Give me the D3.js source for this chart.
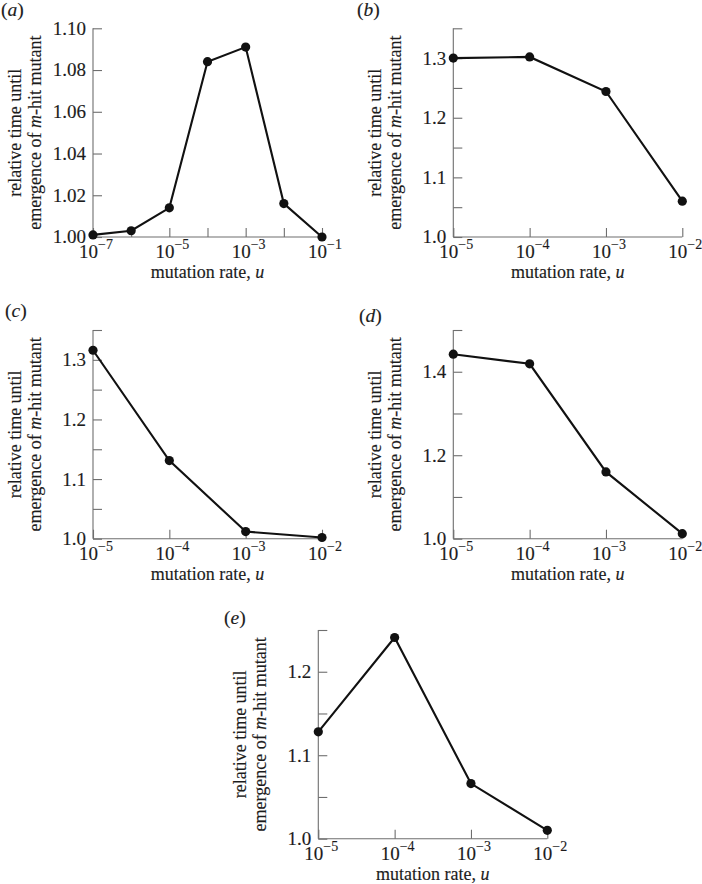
<!DOCTYPE html>
<html>
<head>
<meta charset="utf-8">
<script src="https://cdn.jsdelivr.net/npm/d3@7"></script>
<style>
  html, body { margin: 0; padding: 0; background: #fff; }
  svg { display: block; }
  text { font-family: "Liberation Serif", "Times New Roman", serif; fill: #1c1c1c; stroke: #1c1c1c; stroke-width: 0.15px; }
</style>
</head>
<body>
<svg id="chart" width="702" height="884"></svg>
<script>
// ---- data ----
const panelLabels = ["a", "b", "c", "d", "e"];
const xA = [1e-7, 1e-6, 1e-5, 1e-4, 1e-3, 1e-2, 1e-1];
const yA = [1.001, 1.003, 1.014, 1.084, 1.091, 1.016, 1.000];
const xB = [1e-5, 1e-4, 1e-3, 1e-2];
const yB = [1.300, 1.302, 1.244, 1.060];
const xC = [1e-5, 1e-4, 1e-3, 1e-2];
const yC = [1.316, 1.131, 1.012, 1.002];
const xD = [1e-5, 1e-4, 1e-3, 1e-2];
const yD = [1.442, 1.419, 1.160, 1.012];
const xE = [1e-5, 1e-4, 1e-3, 1e-2];
const yE = [1.128, 1.241, 1.066, 1.010];

// tick values / labels
const xTicksA = [1e-7, 1e-6, 1e-5, 1e-4, 1e-3, 1e-2, 1e-1];
const xTickLabelsA = [1e-7, 1e-5, 1e-3, 1e-1];
const xTicks4 = [1e-5, 1e-4, 1e-3, 1e-2];
const yTicksA = [1.00, 1.02, 1.04, 1.06, 1.08, 1.10];
const yLabelsA = ["1.00", "1.02", "1.04", "1.06", "1.08", "1.10"];
const yTicksBC = [1.00, 1.05, 1.10, 1.15, 1.20, 1.25, 1.30, 1.35];
const yLabelsBC = ["1.0", "", "1.1", "", "1.2", "", "1.3", ""];
const yTicksD = [1.0, 1.1, 1.2, 1.3, 1.4, 1.5];
const yLabelsD = ["1.0", "", "1.2", "", "1.4", ""];
const yTicksE = [1.00, 1.05, 1.10, 1.15, 1.20, 1.25];
const yLabelsE = ["1.0", "", "1.1", "", "1.2", ""];

const xTitle = "mutation rate, ";
const xTitleVar = "u";
const yTitle1 = "relative time until";
const yTitle2a = "emergence of ";
const yTitle2m = "m";
const yTitle2b = "-hit mutant";

// ---- layout ----
const W = 229, H = 208.7;
const panels = [
  { label: panelLabels[0], left: 93,    top: 28.3, xs: xA, ys: yA, xDom: [1e-7, 1e-1], xTicks: xTicksA, xLab: xTickLabelsA, yDom: [1.0, 1.10], yTicks: yTicksA, yLabels: yLabelsA, lx: 1,   ly: 16 },
  { label: panelLabels[1], left: 453.3, top: 28.3, xs: xB, ys: yB, xDom: [1e-5, 1e-2], xTicks: xTicks4, xLab: xTicks4, yDom: [1.0, 1.35], yTicks: yTicksBC, yLabels: yLabelsBC, lx: 357, ly: 16 },
  { label: panelLabels[2], left: 93,    top: 330,  xs: xC, ys: yC, xDom: [1e-5, 1e-2], xTicks: xTicks4, xLab: xTicks4, yDom: [1.0, 1.35], yTicks: yTicksBC, yLabels: yLabelsBC, lx: 5,   ly: 317 },
  { label: panelLabels[3], left: 453.3, top: 330,  xs: xD, ys: yD, xDom: [1e-5, 1e-2], xTicks: xTicks4, xLab: xTicks4, yDom: [1.0, 1.5],  yTicks: yTicksD,  yLabels: yLabelsD,  lx: 359, ly: 322 },
  { label: panelLabels[4], left: 318.3, top: 630,  xs: xE, ys: yE, xDom: [1e-5, 1e-2], xTicks: xTicks4, xLab: xTicks4, yDom: [1.0, 1.25], yTicks: yTicksE,  yLabels: yLabelsE,  lx: 224, ly: 624 }
];

const svg = d3.select("#chart");
const axisColor = "#6e6e6e";
const FS_TICK = 19;
const FS_TITLE = 18;

panels.forEach(p => {
  const g = svg.append("g").attr("transform", `translate(${p.left},${p.top})`);
  const x = d3.scaleLog().domain(p.xDom).range([0, W]);
  const y = d3.scaleLinear().domain(p.yDom).range([H, 0]);

  // y axis (ticks inward)
  const yAxis = d3.axisRight(y).tickValues(p.yTicks).tickSize(9).tickFormat("");
  const ya = g.append("g").call(yAxis);
  ya.select(".domain").attr("d", `M0,0V${H}`).attr("stroke", axisColor).attr("stroke-width", 1.1);
  ya.selectAll(".tick line").attr("stroke", axisColor).attr("stroke-width", 1.1);

  // x axis (ticks inward / upward)
  const xAxis = d3.axisTop(x).tickValues(p.xTicks).tickSize(9).tickFormat("");
  const xa = g.append("g").attr("transform", `translate(0,${H})`).call(xAxis);
  xa.select(".domain").attr("d", `M0,0H${W}`).attr("stroke", axisColor).attr("stroke-width", 1.1);
  xa.selectAll(".tick line").attr("stroke", axisColor).attr("stroke-width", 1.1);

  // y tick labels
  g.selectAll(".ylab").data(p.yTicks.map((v, i) => ({ v, t: p.yLabels[i] })).filter(d => d.t))
    .enter().append("text")
    .attr("x", -7).attr("y", d => y(d.v)).attr("dy", "0.34em")
    .attr("text-anchor", "end").attr("font-size", FS_TICK)
    .text(d => d.t);

  // x tick labels 10^n
  const xl = g.selectAll(".xlab").data(p.xLab).enter().append("text")
    .attr("x", d => x(d) + 3).attr("y", H + 21.5)
    .attr("text-anchor", "middle").attr("font-size", FS_TICK);
  xl.append("tspan").text("10");
  xl.append("tspan").attr("dy", -9).attr("font-size", 14)
    .text(d => "\u2212" + Math.round(-Math.log10(d)));

  // x title
  const xt = g.append("text").attr("x", W / 2).attr("y", H + 41.5)
    .attr("text-anchor", "middle").attr("font-size", FS_TITLE);
  xt.append("tspan").text(xTitle);
  xt.append("tspan").attr("font-style", "italic").text(xTitleVar);

  // y title (two lines)
  const yt = g.append("g").attr("transform", `translate(-78,${H / 2}) rotate(-90)`);
  yt.append("text").attr("x", 0).attr("y", 6).attr("text-anchor", "middle").attr("font-size", FS_TITLE).text(yTitle1);
  const yt2 = yt.append("text").attr("x", 0).attr("y", 26).attr("text-anchor", "middle").attr("font-size", FS_TITLE);
  yt2.append("tspan").text(yTitle2a);
  yt2.append("tspan").attr("font-style", "italic").text(yTitle2m);
  yt2.append("tspan").text(yTitle2b);

  // line + dots
  const pts = p.xs.map((v, i) => [v, p.ys[i]]);
  g.append("path").datum(pts)
    .attr("fill", "none").attr("stroke", "#111").attr("stroke-width", 2.1)
    .attr("d", d3.line().x(d => x(d[0])).y(d => y(d[1])));
  g.selectAll(".dot").data(pts).enter().append("circle")
    .attr("cx", d => x(d[0])).attr("cy", d => y(d[1])).attr("r", 4.6).attr("fill", "#111");

  // panel label
  const pl = svg.append("text").attr("x", p.lx).attr("y", p.ly).attr("font-size", 19.5);
  pl.append("tspan").text("(");
  pl.append("tspan").attr("font-style", "italic").text(p.label);
  pl.append("tspan").text(")");
});
</script>
</body>
</html>
